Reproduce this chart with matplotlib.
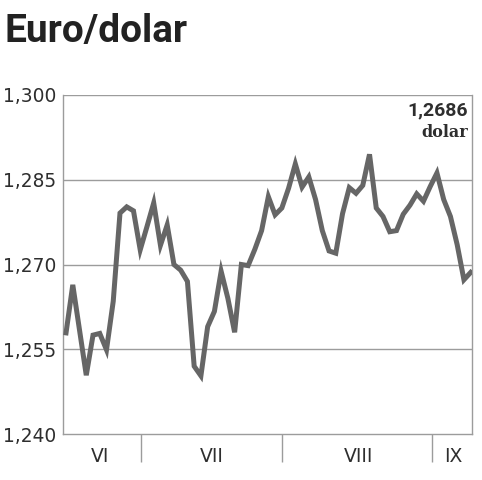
import numpy as np
import matplotlib.pyplot as plt

# daily EUR/USD fixing, June - early September
rates = [1.2579, 1.2664, 1.2584, 1.2504, 1.2575, 1.2578, 1.2549, 1.2635, 1.2791, 1.2802,
         1.2795, 1.2726, 1.2767, 1.2809, 1.2734, 1.2770, 1.2700, 1.2690, 1.2670, 1.2520,
         1.2503, 1.2590, 1.2617, 1.2688, 1.2640, 1.2580, 1.2700, 1.2698, 1.2727, 1.2760,
         1.2820, 1.2788, 1.2800, 1.2835, 1.2878, 1.2837, 1.2855, 1.2815, 1.2760, 1.2724,
         1.2720, 1.2790, 1.2836, 1.2826, 1.2840, 1.2895, 1.2800, 1.2785, 1.2758, 1.2760,
         1.2789, 1.2805, 1.2825, 1.2812, 1.2838, 1.2862, 1.2815, 1.2785, 1.2735, 1.2673,
         1.2686]

months = ['VI', 'VII', 'VIII', 'IX']
month_starts = [11.1, 32.0, 54.3]
month_centers = [5.0, 21.6, 43.3, 57.4]

y_ticks = [1.240, 1.255, 1.270, 1.285, 1.300]
y_labels = ['1,240', '1,255', '1,270', '1,285', '1,300']

last_label = '1,2686'

LINE = '#666666'
GRID = '#9c9c9c'
TXT = '#2e2e2e'

fig = plt.figure(figsize=(4.82, 4.80), dpi=100)
ax = fig.add_axes([0.1307, 0.0958, 0.8486, 0.7063])

x = np.arange(len(rates))
ax.plot(x, rates, color=LINE, lw=3.6, solid_joinstyle='miter', zorder=3)

ax.set_xlim(-0.45, 60.2)
ax.set_ylim(1.240, 1.300)

ax.set_yticks(y_ticks)
ax.set_yticklabels(y_labels, fontsize=13.4, color=TXT, family='DejaVu Sans')
ax.tick_params(axis='y', length=0, pad=5)
for v in y_ticks[1:]:
    ax.axhline(v, color=GRID, lw=1.0, zorder=1)

# month separators as ticks, labels as minor ticks
ax.set_xticks(month_starts)
ax.set_xticklabels([])
ax.tick_params(axis='x', which='major', length=20, width=1.0, color=GRID, direction='out')
ax.set_xticks(month_centers, minor=True)
ax.set_xticklabels(months, minor=True, fontsize=13.5, color=TXT)
ax.tick_params(axis='x', which='minor', length=0, pad=9)

for side in ['left', 'bottom', 'right']:
    ax.spines[side].set_color(GRID)
    ax.spines[side].set_linewidth(1.0)
ax.spines['top'].set_visible(False)

ax.text(0.99, 0.953, last_label, transform=ax.transAxes, ha='right', va='center',
        fontsize=14, fontweight='bold', color=TXT, family='Roboto')
ax.text(0.99, 0.889, 'dolar', transform=ax.transAxes, ha='right', va='center',
        fontsize=11.5, fontweight='bold', color=TXT, family='DejaVu Serif')

fig.text(0.01, 0.935, 'Euro/dolar', ha='left', va='center', fontsize=28,
         fontweight='bold', color='#222222', family='Roboto')

fig.savefig('out.png', dpi=100)
